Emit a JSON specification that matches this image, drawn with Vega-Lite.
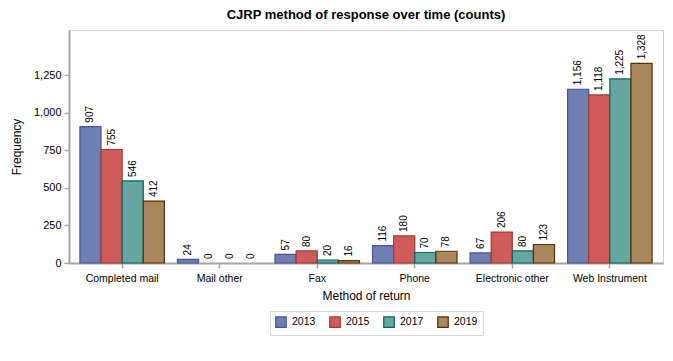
{
  "$schema": "https://vega.github.io/schema/vega-lite/v6.json",
  "width": 594,
  "height": 233,
  "autosize": {"type": "none"},
  "padding": {"left": 69, "top": 30, "right": 10, "bottom": 98},
  "background": "white",
  "title": {
    "text": "CJRP method of response over time (counts)",
    "font": "Liberation Sans",
    "fontSize": 13,
    "fontWeight": "bold",
    "color": "#000000",
    "anchor": "middle",
    "offset": 8
  },
  "config": {
    "font": "Liberation Sans",
    "view": {"stroke": "#CFCFCF", "strokeWidth": 1}
  },
  "data": {
    "values": [
      {"method": "Completed mail", "year": "2013", "count": 907},
      {"method": "Completed mail", "year": "2015", "count": 755},
      {"method": "Completed mail", "year": "2017", "count": 546},
      {"method": "Completed mail", "year": "2019", "count": 412},
      {"method": "Mail other", "year": "2013", "count": 24},
      {"method": "Mail other", "year": "2015", "count": 0},
      {"method": "Mail other", "year": "2017", "count": 0},
      {"method": "Mail other", "year": "2019", "count": 0},
      {"method": "Fax", "year": "2013", "count": 57},
      {"method": "Fax", "year": "2015", "count": 80},
      {"method": "Fax", "year": "2017", "count": 20},
      {"method": "Fax", "year": "2019", "count": 16},
      {"method": "Phone", "year": "2013", "count": 116},
      {"method": "Phone", "year": "2015", "count": 180},
      {"method": "Phone", "year": "2017", "count": 70},
      {"method": "Phone", "year": "2019", "count": 78},
      {"method": "Electronic other", "year": "2013", "count": 67},
      {"method": "Electronic other", "year": "2015", "count": 206},
      {"method": "Electronic other", "year": "2017", "count": 80},
      {"method": "Electronic other", "year": "2019", "count": 123},
      {"method": "Web Instrument", "year": "2013", "count": 1156},
      {"method": "Web Instrument", "year": "2015", "count": 1118},
      {"method": "Web Instrument", "year": "2017", "count": 1225},
      {"method": "Web Instrument", "year": "2019", "count": 1328}
    ]
  },
  "encoding": {
    "x": {
      "field": "method",
      "type": "nominal",
      "sort": ["Completed mail", "Mail other", "Fax", "Phone", "Electronic other", "Web Instrument"],
      "scale": {"paddingInner": 0.134, "paddingOuter": 0.112},
      "axis": {
        "title": "Method of return",
        "labelAngle": 0,
        "labelFontSize": 10.5,
        "labelColor": "#000000",
        "labelPadding": 5,
        "titleFontSize": 12,
        "titleFontWeight": "normal",
        "titleColor": "#000000",
        "titlePadding": 7,
        "domainColor": "#A5A5A5",
        "domainWidth": 2,
        "tickColor": "#A5A5A5",
        "tickSize": 5,
        "tickWidth": 1.5
      }
    },
    "xOffset": {"field": "year", "type": "nominal"},
    "y": {
      "field": "count",
      "type": "quantitative",
      "scale": {"domain": [0, 1550], "nice": false},
      "axis": {
        "title": "Frequency",
        "values": [0, 250, 500, 750, 1000, 1250],
        "format": ",d",
        "grid": false,
        "labelFontSize": 11,
        "labelColor": "#000000",
        "labelPadding": 3,
        "titleFontSize": 12,
        "titleFontWeight": "normal",
        "titleColor": "#000000",
        "titlePadding": 10,
        "domainColor": "#A5A5A5",
        "domainWidth": 2,
        "tickColor": "#A5A5A5",
        "tickSize": 5,
        "tickWidth": 1.5
      }
    }
  },
  "layer": [
    {
      "mark": {"type": "bar", "strokeWidth": 1.2, "fillOpacity": 1},
      "encoding": {
        "strokeOpacity": {"condition": {"test": "datum.count > 0", "value": 1}, "value": 0},
        "fill": {
          "field": "year",
          "type": "nominal",
          "scale": {"domain": ["2013", "2015", "2017", "2019"], "range": ["#6F7EB3", "#D05B5B", "#66A5A0", "#A9865B"]},
          "legend": {
            "title": null,
            "orient": "none",
            "legendX": 201,
            "legendY": 281,
            "direction": "horizontal",
            "symbolType": "square",
            "symbolSize": 110,
            "symbolStrokeWidth": 1.2,
            "symbolOpacity": 1,
            "labelFontSize": 10.5,
            "labelColor": "#000000",
            "labelOffset": 5,
            "columnPadding": 11,
            "strokeColor": "#D6D6D6",
            "padding": 5
          }
        },
        "stroke": {
          "field": "year",
          "type": "nominal",
          "scale": {"domain": ["2013", "2015", "2017", "2019"], "range": ["#445694", "#A23A2E", "#01665E", "#543005"]},
          "legend": {
            "title": null,
            "orient": "none",
            "legendX": 201,
            "legendY": 281,
            "direction": "horizontal",
            "symbolType": "square",
            "symbolSize": 110,
            "symbolStrokeWidth": 1.2,
            "symbolOpacity": 1,
            "labelFontSize": 10.5,
            "labelColor": "#000000",
            "labelOffset": 5,
            "columnPadding": 11,
            "strokeColor": "#D6D6D6",
            "padding": 5
          }
        }
      }
    },
    {
      "mark": {"type": "text", "angle": -90, "align": "left", "baseline": "middle", "dx": 4, "fontSize": 10, "color": "#000000"},
      "encoding": {
        "text": {"field": "count", "type": "quantitative", "format": ",d"}
      }
    }
  ]
}
